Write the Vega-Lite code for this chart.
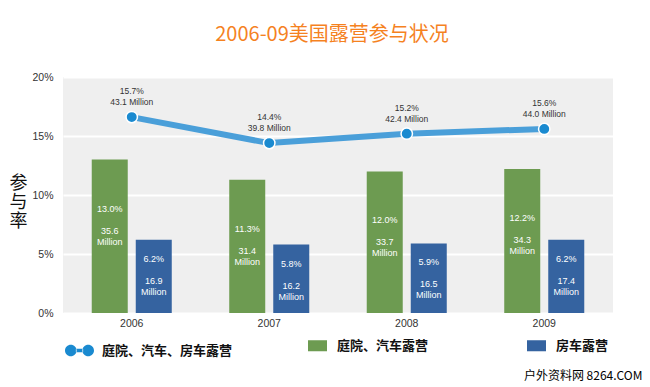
{
  "$schema": "https://vega.github.io/schema/vega-lite/v6.json",
  "width": 550,
  "height": 236,
  "autosize": {"type": "none"},
  "padding": {"left": 63, "top": 77, "right": 37, "bottom": 74},
  "background": "white",
  "title": {
    "text": "2006-09美国露营参与状况",
    "font": "Noto Sans CJK SC",
    "fontSize": 20,
    "fontWeight": "normal",
    "color": "#f5821f",
    "anchor": "middle",
    "frame": "group",
    "offset": 27,
    "dx": -6
  },
  "config": {
    "view": {"fill": "#efefef", "stroke": null},
    "font": "Liberation Sans"
  },
  "datasets": {
    "bars": [
      {"year": "2006", "series": "庭院、汽车露营", "rate": 13.0, "pct": "13.0%", "mil": "35.6\nMillion"},
      {"year": "2006", "series": "房车露营", "rate": 6.2, "pct": "6.2%", "mil": "16.9\nMillion"},
      {"year": "2007", "series": "庭院、汽车露营", "rate": 11.3, "pct": "11.3%", "mil": "31.4\nMillion"},
      {"year": "2007", "series": "房车露营", "rate": 5.8, "pct": "5.8%", "mil": "16.2\nMillion"},
      {"year": "2008", "series": "庭院、汽车露营", "rate": 12.0, "pct": "12.0%", "mil": "33.7\nMillion"},
      {"year": "2008", "series": "房车露营", "rate": 5.9, "pct": "5.9%", "mil": "16.5\nMillion"},
      {"year": "2009", "series": "庭院、汽车露营", "rate": 12.2, "pct": "12.2%", "mil": "34.3\nMillion"},
      {"year": "2009", "series": "房车露营", "rate": 6.2, "pct": "6.2%", "mil": "17.4\nMillion"}
    ],
    "line": [
      {"year": "2006", "series": "庭院、汽车、房车露营", "rate": 16.6, "label": "15.7%\n43.1 Million"},
      {"year": "2007", "series": "庭院、汽车、房车露营", "rate": 14.4, "label": "14.4%\n39.8 Million"},
      {"year": "2008", "series": "庭院、汽车、房车露营", "rate": 15.2, "label": "15.2%\n42.4 Million"},
      {"year": "2009", "series": "庭院、汽车、房车露营", "rate": 15.6, "label": "15.6%\n44.0 Million"}
    ]
  },
  "encoding": {
    "x": {
      "field": "year",
      "type": "nominal",
      "scale": {"paddingInner": 0, "paddingOuter": 0},
      "axis": {
        "title": "户外资料网 8264.COM",
        "titleFont": "Noto Sans CJK SC",
        "titleFontSize": 12,
        "titleFontWeight": "normal",
        "titleColor": "#000",
        "titleX": 579,
        "titleY": 62,
        "titleAlign": "right",
        "titleBaseline": "middle",
        "domain": false,
        "ticks": false,
        "labelAngle": 0,
        "labelFontSize": 10.5,
        "labelColor": "#333",
        "labelPadding": 5
      }
    },
    "y": {
      "field": "rate",
      "type": "quantitative",
      "scale": {"domain": [0, 20], "nice": false},
      "axis": {
        "values": [0, 5, 10, 15, 20],
        "labelExpr": "datum.value + '%'",
        "domain": false,
        "ticks": false,
        "gridColor": "white",
        "gridWidth": 2,
        "labelPadding": 10,
        "labelFontSize": 10.5,
        "labelColor": "#333",
        "title": ["参", "与", "率"],
        "titleAngle": 0,
        "titleFont": "Noto Sans CJK SC",
        "titleFontSize": 18,
        "titleFontWeight": "normal",
        "titleColor": "#111",
        "titleLineHeight": 19,
        "titleAlign": "center",
        "titleBaseline": "top",
        "titleX": -45,
        "titleY": 97
      }
    }
  },
  "layer": [
    {
      "data": {"name": "bars"},
      "encoding": {
        "xOffset": {
          "field": "series",
          "type": "nominal",
          "sort": ["庭院、汽车露营", "房车露营"],
          "scale": {"paddingInner": 0.182, "paddingOuter": 0.653}
        }
      },
      "layer": [
        {
          "mark": {"type": "bar"},
          "encoding": {
            "color": {
              "field": "series",
              "type": "nominal",
              "sort": ["庭院、汽车露营", "房车露营"],
              "scale": {"domain": ["庭院、汽车露营", "房车露营"], "range": ["#6d9b51", "#3563a0"]},
              "legend": {
                "orient": "none",
                "legendX": 245,
                "legendY": 259,
                "direction": "horizontal",
                "title": null,
                "symbolType": "M-1,-0.58L1,-0.58L1,0.58L-1,0.58Z",
                "symbolSize": 361,
                "symbolStrokeWidth": 0,
                "labelFont": "Noto Sans CJK SC",
                "labelFontSize": 13,
                "labelFontWeight": "bold",
                "labelColor": "#111",
                "labelOffset": 10,
                "columnPadding": 98,
                "labelLimit": 300
              }
            }
          }
        },
        {
          "transform": [{"filter": "datum.series === '庭院、汽车露营'"}],
          "mark": {"type": "text", "baseline": "top", "dy": 45, "color": "white", "fontSize": 9},
          "encoding": {"text": {"field": "pct"}}
        },
        {
          "transform": [{"filter": "datum.series === '庭院、汽车露营'"}],
          "mark": {"type": "text", "baseline": "top", "dy": 67, "lineBreak": "\n", "lineHeight": 11, "color": "white", "fontSize": 9},
          "encoding": {"text": {"field": "mil"}}
        },
        {
          "transform": [{"filter": "datum.series === '房车露营'"}],
          "mark": {"type": "text", "baseline": "top", "dy": 15, "color": "white", "fontSize": 9},
          "encoding": {"text": {"field": "pct"}}
        },
        {
          "transform": [{"filter": "datum.series === '房车露营'"}],
          "mark": {"type": "text", "baseline": "top", "dy": 37, "lineBreak": "\n", "lineHeight": 11, "color": "white", "fontSize": 9},
          "encoding": {"text": {"field": "mil"}}
        }
      ]
    },
    {
      "data": {"name": "line"},
      "layer": [
        {
          "mark": {"type": "line", "color": "#4a9fd9", "strokeWidth": 6},
          "encoding": {}
        },
        {
          "mark": {"type": "point", "filled": true, "size": 130, "stroke": "white", "strokeWidth": 1.5, "opacity": 1},
          "encoding": {
            "color": {
              "field": "series",
              "type": "nominal",
              "scale": {"domain": ["庭院、汽车、房车露营"], "range": ["#1a8ad0"]},
              "legend": {
                "orient": "none",
                "legendX": 2,
                "legendY": 259,
                "title": null,
                "symbolType": "M-1,0A0.4,0.4 0 1,0 -0.2,0A0.4,0.4 0 1,0 -1,0ZM0.2,0A0.4,0.4 0 1,0 1,0A0.4,0.4 0 1,0 0.2,0ZM-0.25,-0.12L0.25,-0.12L0.25,0.12L-0.25,0.12Z",
                "symbolSize": 841,
                "symbolStrokeWidth": 0,
                "symbolOpacity": 1,
                "labelFont": "Noto Sans CJK SC",
                "labelFontSize": 13,
                "labelFontWeight": "bold",
                "labelColor": "#111",
                "labelOffset": 8,
                "labelLimit": 300
              }
            }
          }
        },
        {
          "mark": {"type": "text", "baseline": "bottom", "dy": -21, "lineBreak": "\n", "lineHeight": 11, "color": "#333", "fontSize": 8.5},
          "encoding": {"text": {"field": "label"}}
        }
      ]
    }
  ],
  "resolve": {"scale": {"color": "independent"}}
}
